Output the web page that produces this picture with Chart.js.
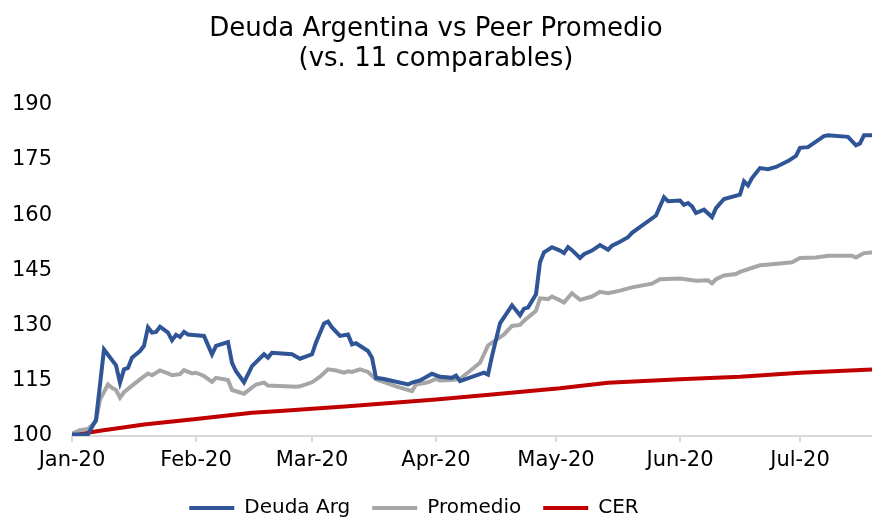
<!DOCTYPE html>
<html>
<head>
<meta charset="utf-8">
<script src="https://cdn.jsdelivr.net/npm/chart.js@4"></script>
<style>
  html, body { margin: 0; padding: 0; background: #fff; }
  #wrap { width: 872px; height: 517px; }
</style>
</head>
<body>
<div id="wrap"><canvas id="chart" width="872" height="517"></canvas></div>
<script>
// days counted from 1 Jan 2020
const monthTicks = [0, 31, 60, 91, 121, 152, 182];
const monthLabels = ['Jan-20', 'Feb-20', 'Mar-20', 'Apr-20', 'May-20', 'Jun-20', 'Jul-20'];

const argDays = [0, 4, 6, 8, 11, 12, 13, 14, 15, 17, 18, 19, 20, 21, 22, 24, 25, 26, 27, 28, 29, 31, 33, 35, 36, 39, 40, 41, 43, 45, 48, 49, 50, 55, 57, 60, 61, 63, 64, 65, 67, 69, 70, 71, 74, 75, 76, 78, 84, 85, 87, 89, 90, 92, 95, 96, 97, 103, 104, 105, 107, 110, 112, 113, 114, 116, 117, 118, 120, 122, 123, 124, 125, 127, 128, 130, 132, 134, 135, 137, 139, 140, 146, 148, 149, 152, 153, 154, 155, 156, 158, 160, 161, 163, 167, 168, 169, 170, 172, 174, 176, 179, 181, 182, 184, 188, 189, 194, 196, 197, 198, 200];
const argVals = [100.4, 100.5, 104.4, 123.5, 119.2, 114.5, 118.1, 118.5, 121.3, 123.1, 124.5, 129.5, 128.1, 128.3, 129.7, 128.1, 126.0, 127.5, 126.9, 128.3, 127.6, 127.4, 127.2, 122.2, 124.5, 125.5, 119.9, 117.6, 114.6, 119.0, 122.2, 121.3, 122.6, 122.2, 121.0, 122.2, 125.4, 130.6, 131.1, 129.5, 127.2, 127.6, 124.9, 125.2, 123.1, 121.3, 115.8, 115.5, 114.0, 114.5, 115.1, 116.3, 116.9, 116.1, 115.8, 116.4, 114.9, 117.2, 116.7, 121.7, 130.6, 135.5, 132.8, 134.6, 134.9, 138.5, 147.2, 149.9, 151.3, 150.4, 149.7, 151.3, 150.5, 148.4, 149.4, 150.4, 151.9, 150.6, 151.7, 152.8, 154.0, 155.2, 159.9, 164.9, 163.8, 164.0, 162.8, 163.3, 162.4, 160.6, 161.5, 159.5, 161.9, 164.4, 165.6, 169.2, 168.1, 170.1, 172.8, 172.5, 173.1, 174.7, 176.1, 178.3, 178.5, 181.5, 181.7, 181.3, 179.0, 179.5, 181.7, 181.7];

const promDays = [0, 2, 4, 6, 7, 9, 10, 11, 12, 13, 14, 17, 19, 20, 22, 24, 25, 27, 28, 30, 31, 33, 35, 36, 39, 40, 43, 46, 48, 49, 56, 57, 60, 62, 64, 66, 68, 69, 70, 72, 74, 76, 81, 85, 86, 89, 91, 92, 95, 97, 102, 104, 108, 110, 112, 113, 116, 117, 119, 120, 123, 125, 127, 130, 132, 134, 137, 140, 145, 147, 152, 156, 159, 160, 161, 163, 166, 167, 172, 175, 180, 182, 186, 189, 195, 196, 198, 200];
const promVals = [100.6, 101.6, 101.9, 104.0, 109.9, 114.0, 113.1, 112.5, 110.4, 111.9, 112.8, 115.4, 117.0, 116.5, 117.8, 117.0, 116.5, 116.8, 117.9, 117.0, 117.2, 116.3, 114.7, 115.8, 115.2, 112.5, 111.5, 114.0, 114.5, 113.7, 113.4, 113.5, 114.6, 116.1, 118.1, 117.8, 117.2, 117.6, 117.4, 118.1, 117.4, 115.4, 113.5, 112.2, 114.0, 114.6, 115.5, 115.1, 115.2, 115.5, 119.9, 124.6, 127.6, 129.9, 130.2, 131.3, 134.0, 137.4, 137.2, 137.9, 136.3, 138.8, 137.0, 137.9, 139.2, 138.8, 139.5, 140.4, 141.4, 142.6, 142.8, 142.2, 142.3, 141.5, 142.6, 143.6, 144.0, 144.6, 146.4, 146.7, 147.2, 148.4, 148.5, 149.0, 149.0, 148.5, 149.7, 149.9];

const cerDays = [0, 7, 18, 31, 45, 52, 69, 91, 105, 122, 134, 152, 167, 182, 200];
const cerVals = [100.2, 101.4, 103.1, 104.6, 106.3, 106.8, 108.1, 109.9, 111.3, 113.0, 114.5, 115.4, 116.1, 117.2, 118.1];

const toPoints = (days, vals) => days.map((d, i) => ({ x: d, y: vals[i] }));

const FONT = 'DejaVu Sans';

// nudge the centred legend a little to the left, like the original
const legendShift = {
  id: 'legendShift',
  afterLayout(chart) {
    chart.legend.left -= 22;
    chart.legend.right -= 22;
  }
};

new Chart(document.getElementById('chart'), {
  type: 'line',
  data: {
    datasets: [
      { label: 'Deuda Arg', data: toPoints(argDays, argVals), borderColor: '#2F5597', backgroundColor: '#2F5597' },
      { label: 'Promedio', data: toPoints(promDays, promVals), borderColor: '#A6A6A6', backgroundColor: '#A6A6A6' },
      { label: 'CER', data: toPoints(cerDays, cerVals), borderColor: '#C00000', backgroundColor: '#C00000' }
    ]
  },
  plugins: [legendShift],
  options: {
    responsive: false,
    animation: false,
    datasets: { line: { borderWidth: 4, pointRadius: 0, tension: 0 } },
    layout: { padding: { left: 0, right: 0, bottom: -11 } },
    plugins: {
      title: {
        display: true,
        text: ['Deuda Argentina vs Peer Promedio', '(vs. 11 comparables)'],
        color: '#000',
        font: { family: FONT, size: 26, weight: 'normal', lineHeight: 1.15 },
        padding: { top: 14, bottom: 31 }
      },
      legend: {
        position: 'bottom',
        labels: {
          color: '#000',
          font: { family: FONT, size: 20 },
          usePointStyle: true,
          pointStyle: 'line',
          pointStyleWidth: 45,
          padding: 22
        }
      },
      tooltip: { enabled: false }
    },
    scales: {
      x: {
        type: 'linear',
        min: 0,
        max: 200,
        afterBuildTicks: scale => { scale.ticks = monthTicks.map(v => ({ value: v })); },
        afterFit: scale => { scale.height = 40; },
        ticks: {
          color: '#000',
          font: { family: FONT, size: 21 },
          padding: 6,
          maxRotation: 0,
          autoSkip: false,
          callback: value => monthLabels[monthTicks.indexOf(value)]
        },
        grid: { drawOnChartArea: false, drawTicks: true, tickLength: 6, color: '#D9D9D9', lineWidth: 2 },
        border: { display: true, color: '#D9D9D9', width: 2 }
      },
      y: {
        min: 100,
        max: 190,
        afterFit: scale => { scale.width = 72; },
        ticks: {
          stepSize: 15,
          color: '#000',
          font: { family: FONT, size: 21 },
          padding: 20
        },
        grid: { display: false, drawTicks: false },
        border: { display: false }
      }
    }
  }
});
</script>
</body>
</html>
